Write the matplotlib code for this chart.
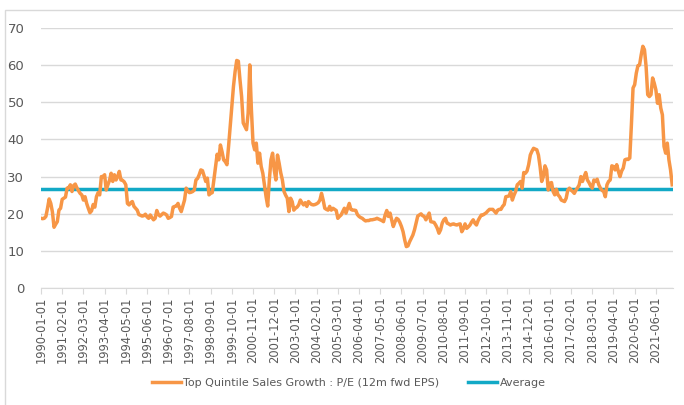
import numpy as np
import pandas as pd
import matplotlib
matplotlib.use("Agg")
import matplotlib.pyplot as plt
from matplotlib.patches import Rectangle

# monthly P/E of top quintile sales growth, 1990-01 .. 2022-04
pe_1990 = [18.8, 18.7, 18.8, 19.3, 21.5, 24.0, 22.8, 20.5, 16.4, 17.2, 17.9, 21.0]
pe_1991 = [21.5, 23.9, 24.2, 24.5, 26.9, 27.0, 27.8, 26.0, 27.6, 28.0, 27.0, 26.2]
pe_1992 = [25.5, 25.1, 23.7, 24.6, 22.8, 21.5, 20.3, 20.8, 22.5, 21.8, 24.6, 25.7]
pe_1993 = [25.1, 30.0, 30.0, 30.5, 26.4, 27.8, 29.0, 30.9, 28.7, 30.5, 29.1, 30.0]
pe_1994 = [31.4, 29.1, 29.0, 28.6, 27.8, 22.8, 22.4, 23.0, 23.3, 22.0, 21.5, 21.0]
pe_1995 = [19.8, 19.6, 19.4, 19.5, 19.9, 19.2, 18.8, 19.7, 19.0, 18.4, 18.8, 20.9]
pe_1996 = [19.8, 19.4, 19.8, 20.2, 20.0, 19.7, 18.8, 19.0, 19.3, 21.8, 22.0, 22.1]
pe_1997 = [22.8, 21.5, 20.6, 22.1, 23.7, 26.9, 26.2, 25.7, 25.8, 26.0, 26.4, 29.1]
pe_1998 = [29.5, 30.5, 31.8, 31.6, 30.2, 28.7, 29.6, 25.1, 25.5, 25.7, 29.1, 32.7]
pe_1999 = [36.0, 34.5, 38.5, 36.7, 34.5, 34.0, 33.2, 38.1, 43.5, 48.8, 54.2, 58.2]
pe_2000 = [61.2, 61.0, 56.0, 51.5, 44.4, 43.5, 42.6, 47.0, 60.0, 48.0, 39.0, 37.2]
pe_2001 = [39.0, 33.6, 36.3, 32.7, 30.9, 27.8, 24.6, 22.1, 29.1, 34.5, 36.3, 31.8]
pe_2002 = [29.1, 35.8, 33.6, 31.0, 29.1, 26.0, 25.0, 24.2, 20.6, 24.2, 23.3, 21.0]
pe_2003 = [21.5, 21.8, 22.4, 23.7, 23.0, 22.4, 23.0, 22.0, 23.3, 22.8, 22.5, 22.4]
pe_2004 = [22.5, 22.7, 23.0, 23.7, 25.5, 23.7, 21.5, 21.2, 21.0, 22.0, 21.0, 21.5]
pe_2005 = [21.2, 20.9, 18.8, 19.3, 19.7, 20.6, 21.5, 20.2, 21.5, 22.8, 21.2, 21.0]
pe_2006 = [21.0, 20.9, 19.8, 19.3, 19.0, 18.8, 18.4, 18.1, 18.2, 18.2, 18.4, 18.4]
pe_2007 = [18.5, 18.6, 18.8, 18.6, 18.4, 18.2, 17.9, 19.7, 20.9, 19.3, 20.2, 18.4]
pe_2008 = [16.6, 17.8, 18.8, 18.5, 17.7, 16.6, 15.2, 13.0, 11.2, 11.4, 12.5, 13.4]
pe_2009 = [14.3, 15.7, 17.5, 19.4, 19.7, 20.0, 19.5, 19.3, 18.4, 19.3, 20.2, 17.9]
pe_2010 = [17.8, 17.7, 17.0, 16.1, 14.8, 15.7, 17.5, 18.4, 18.8, 17.5, 17.3, 17.0]
pe_2011 = [17.2, 17.3, 17.1, 17.0, 17.2, 17.3, 15.2, 16.0, 17.3, 16.1, 16.5, 17.0]
pe_2012 = [17.8, 18.4, 17.5, 17.0, 18.2, 19.0, 19.7, 19.7, 20.0, 20.3, 20.8, 21.2]
pe_2013 = [21.2, 21.2, 20.7, 20.2, 21.0, 21.2, 21.2, 22.0, 22.5, 24.6, 24.7, 24.8]
pe_2014 = [26.0, 23.7, 25.0, 26.0, 27.8, 28.2, 28.7, 26.9, 31.1, 30.9, 31.5, 33.2]
pe_2015 = [35.8, 36.8, 37.6, 37.4, 37.2, 35.8, 32.7, 28.7, 30.0, 32.9, 31.8, 26.4]
pe_2016 = [28.2, 28.4, 26.0, 25.1, 26.6, 25.1, 24.6, 23.7, 23.5, 23.3, 24.2, 26.4]
pe_2017 = [26.9, 26.4, 26.0, 25.5, 26.4, 27.0, 27.8, 30.0, 28.7, 30.0, 31.1, 29.1]
pe_2018 = [28.4, 27.5, 26.9, 29.1, 28.7, 29.3, 27.8, 26.9, 26.3, 26.0, 24.6, 27.8]
pe_2019 = [28.7, 29.1, 32.9, 32.7, 31.8, 33.2, 31.4, 30.0, 31.5, 32.3, 34.5, 34.7]
pe_2020 = [34.6, 35.0, 44.0, 53.8, 54.7, 57.8, 59.8, 60.0, 62.7, 65.0, 64.1, 59.6]
pe_2021 = [52.0, 51.5, 52.0, 56.5, 55.1, 53.3, 49.7, 52.0, 48.4, 46.6, 38.1, 36.3]
pe_2022 = [39.0, 34.5, 31.8, 27.8]

AVERAGE = 26.7

values = (pe_1990 + pe_1991 + pe_1992 + pe_1993 + pe_1994 + pe_1995 + pe_1996
          + pe_1997 + pe_1998 + pe_1999 + pe_2000 + pe_2001 + pe_2002 + pe_2003
          + pe_2004 + pe_2005 + pe_2006 + pe_2007 + pe_2008 + pe_2009 + pe_2010
          + pe_2011 + pe_2012 + pe_2013 + pe_2014 + pe_2015 + pe_2016 + pe_2017
          + pe_2018 + pe_2019 + pe_2020 + pe_2021 + pe_2022)
dates = pd.date_range("1990-01-01", periods=len(values), freq="MS")
labels = dates.strftime("%Y-%m-%d")
x = np.arange(len(values))

ORANGE = "#F79646"
TEAL = "#12A9C6"
GREY = "#595959"

fig = plt.figure(figsize=(6.84, 4.05), dpi=100)
fig.patches.append(Rectangle((5 / 684, -0.01), 1.0, 1 - 10 / 405 + 0.01,
                             transform=fig.transFigure, fill=False,
                             edgecolor="#d9d9d9", linewidth=1.0))
ax = fig.add_axes([41 / 684, 1 - 288.3 / 405, 632 / 684, (288.3 - 27.7) / 405])

ax.plot(x, values, color=ORANGE, linewidth=2.5,
        label="Top Quintile Sales Growth : P/E (12m fwd EPS)", zorder=3)
ax.plot(x, [AVERAGE] * len(values), color=TEAL, linewidth=2.5,
        label="Average", zorder=2)

ax.set_ylim(0, 70)
ax.set_yticks(range(0, 71, 10))
ax.set_xlim(0, len(values) - 0.5)
ax.set_xticks(x[::13])
ax.set_xticklabels(labels[::13], rotation=90)
ax.grid(axis="y", color="#d9d9d9", linewidth=1.0)
ax.set_axisbelow(True)
for s in ["top", "right", "left"]:
    ax.spines[s].set_visible(False)
ax.spines["bottom"].set_color("#d9d9d9")
ax.tick_params(axis="y", length=0, labelsize=9.5, labelcolor=GREY, pad=12)
ax.tick_params(axis="x", length=4, color="#d9d9d9", labelsize=8.3,
               labelcolor=GREY, pad=2)

fig.legend(loc="center", bbox_to_anchor=(0.51, 1 - 383 / 405), ncol=2,
           frameon=False, fontsize=8, handlelength=2.6, columnspacing=2.6,
           handletextpad=0.2, labelcolor=GREY)

fig.savefig("out.png", dpi=100)
